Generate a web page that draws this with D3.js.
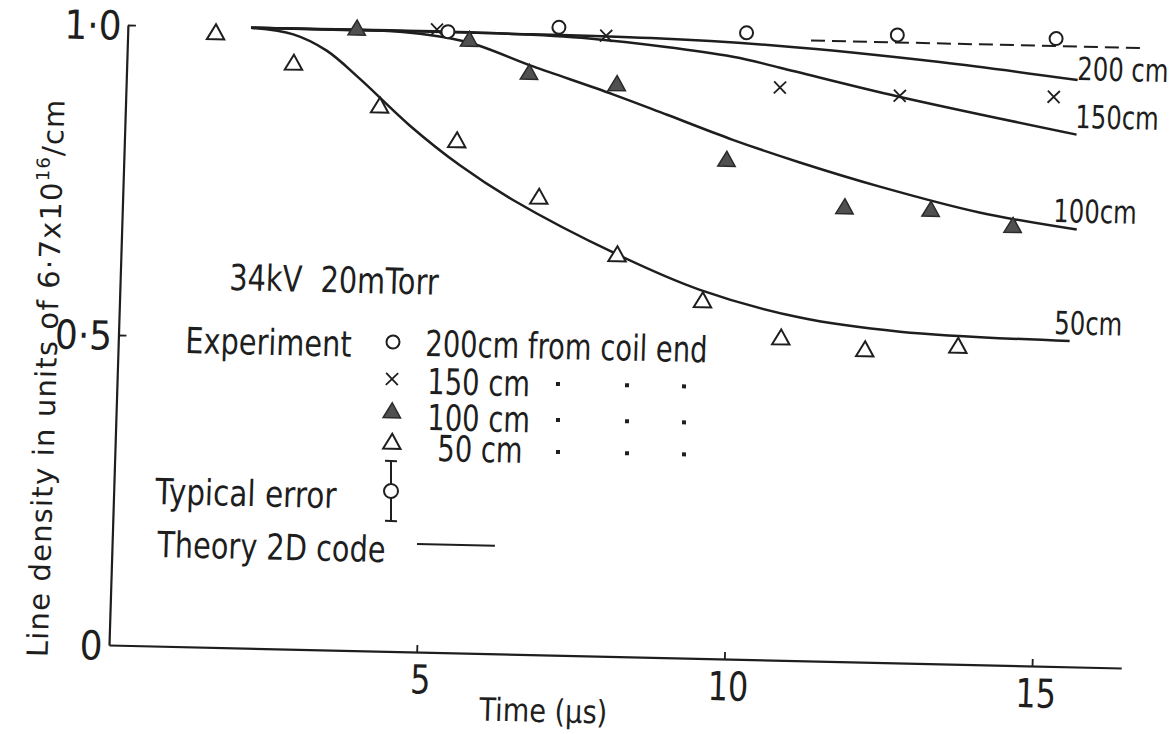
<!DOCTYPE html>
<html><head><meta charset="utf-8">
<script src="https://cdn.jsdelivr.net/npm/d3@7"></script>
<style>
body{margin:0;background:#fff;}
svg{display:block;background:#fff;}
text{font-family:"DejaVu Sans",sans-serif;fill:#1e1e1e;}
</style></head><body>
<svg id="c" width="1172" height="734"></svg>
<script>
// ---------- data ----------
const xTicks=[5,10,15];
const yTicks=[0,0.5,1];
const yTickLabels=["0","0\u00B75","1\u00B70"];

const exp200X=[5.2,7.0,10.05,12.5,15.08];
const exp200Y=[1.001,1.012,1.01,1.012,1.012];
const exp150X=[5.02,7.77,10.62,12.57,15.07];
const exp150Y=[1.004,1.0,0.923,0.914,0.918];
const exp100X=[3.72,5.55,6.54,7.97,9.79,11.73,13.13,14.47];
const exp100Y=[1.003,0.989,0.938,0.923,0.805,0.733,0.732,0.709];
const exp50X=[1.43,2.71,4.13,5.40,6.76,8.06,9.47,10.76,12.13,13.64];
const exp50Y=[0.991,0.945,0.879,0.826,0.738,0.648,0.577,0.520,0.504,0.513];

const th200X=[2,6,8.5,10.6,13.2,15.45];
const th200Y=[1,1,0.998,0.99,0.97,0.946];
const th150X=[2,6,7.5,9.84,10.61,12.54,15.46];
const th150Y=[1,1,0.995,0.971,0.955,0.913,0.858];
const th100X=[2,3.5,4.42,5.51,6.6,7.91,8.8,9.88,10.98,12.29,13.92,15.51];
const th100Y=[1,1,0.999,0.985,0.948,0.906,0.875,0.837,0.803,0.767,0.729,0.705];
const th50X=[2,2.69,3.24,3.79,4.63,5.46,6.34,8.06,9.42,11.06,12.69,15.45];
const th50Y=[1,0.991,0.966,0.922,0.848,0.786,0.732,0.648,0.594,0.553,0.534,0.525];
const dashX=[11.1,16.5];
const dashY=[1.0,1.0];

const curveLabels=["200 cm","150cm","100cm","50cm"];
const legendLabels=["200cm from coil end","150 cm","100 cm","50 cm"];
const conditionText="34kV  20mTorr";
const yTitle=["Line density in units of 6\u00B77x10","16","/cm"];
const xTitle="Time (\u00B5s)";

// ---------- layout ----------
const W=1172,H=734;
const ox=109, oy=645;             // page position of the origin
const alpha=1.3*Math.PI/180, beta=1.75*Math.PI/180; // scan tilt
const ma=Math.cos(alpha), mb=Math.sin(alpha), mc=-Math.sin(beta), md=Math.cos(beta);
const det=ma*md-mb*mc;
function loc(p){const dx=p[0]-ox, dy=p[1]-oy; return [(md*dx-mc*dy)/det, (-mb*dx+ma*dy)/det];}

const pxPerX=61.55, pxPerY=620.3, xMax=16.45;
const x=d3.scaleLinear().domain([0,xMax]).range([0,xMax*pxPerX]);
const y=d3.scaleLinear().domain([0,1]).range([0,-pxPerY]);

const svg=d3.select('#c');
svg.append('rect').attr('width',W).attr('height',H).attr('fill','#fff');
const g=svg.append('g').attr('transform',`matrix(${ma},${mb},${mc},${md},${ox},${oy})`);
const ink='#1e1e1e';

// axes
const gx=g.append('g').call(d3.axisBottom(x).tickValues(xTicks).tickFormat(d3.format('d'))
  .tickSizeInner(-7).tickSizeOuter(0).tickPadding(13));
const gy=g.append('g').call(d3.axisLeft(y).tickValues(yTicks).tickFormat((d,i)=>yTickLabels[i])
  .tickSizeInner(-8).tickSizeOuter(0).tickPadding(7));
[gx,gy].forEach(a=>{
  a.attr('font-family',null).attr('font-size',null);
  a.select('.domain').attr('stroke',ink).attr('stroke-width',2.2);
  a.selectAll('.tick line').attr('stroke',ink).attr('stroke-width',1.8);
  a.selectAll('.tick text').attr('font-size',40).attr('fill',ink);
});
gx.selectAll('.tick text').attr('transform','translate(4,0) scale(0.8,1)');
gy.selectAll('.tick text').attr('transform','scale(0.9,1)');
gy.selectAll('.tick').filter(d=>d===0).select('line').remove();
gy.selectAll('.tick text').attr('dy','0.36em');

// theory curves
const line=d3.line().x(d=>x(d[0])).y(d=>y(d[1])).curve(d3.curveCatmullRom.alpha(0.5));
[[th200X,th200Y],[th150X,th150Y],[th100X,th100Y],[th50X,th50Y]].forEach(([xs,ys])=>{
  g.append('path').datum(xs.map((v,i)=>[v,ys[i]])).attr('d',line)
   .attr('fill','none').attr('stroke',ink).attr('stroke-width',2.5);
});
g.append('path').datum(dashX.map((v,i)=>[v,dashY[i]])).attr('d',d3.line().x(d=>x(d[0])).y(d=>y(d[1])))
  .attr('fill','none').attr('stroke',ink).attr('stroke-width',2).attr('stroke-dasharray','14,7');

// markers
const tri=(s)=>`M0,${-s*0.55}L${s*0.58},${s*0.45}L${-s*0.58},${s*0.45}Z`;
function marker(sel,type){
  if(type==='circle') sel.append('circle').attr('r',6.5).attr('fill','#fff').attr('stroke',ink).attr('stroke-width',2);
  else if(type==='cross') sel.append('path').attr('d','M-6,-6L6,6M-6,6L6,-6').attr('stroke',ink).attr('stroke-width',1.8);
  else if(type==='ftri') sel.append('path').attr('d',tri(15)).attr('fill','#505050').attr('stroke','#2a2a2a').attr('stroke-width',1.5);
  else sel.append('path').attr('d',tri(15)).attr('fill','#fff').attr('stroke',ink).attr('stroke-width',2);
}
[[exp200X,exp200Y,'circle'],[exp150X,exp150Y,'cross'],[exp100X,exp100Y,'ftri'],[exp50X,exp50Y,'otri']].forEach(([xs,ys,t])=>{
  xs.forEach((v,i)=>{const m=g.append('g').attr('transform',`translate(${x(v)},${y(ys[i])})`); marker(m,t);});
});

// text helper (page position -> tilted frame, horizontally condensed lettering)
function txt(t,p,fs,sx,anchor){const q=loc(p);
  return g.append('text').attr('transform',`translate(${q[0]},${q[1]}) scale(${sx},1)`)
    .attr('font-size',fs).attr('text-anchor',anchor||'start').text(t);}

// curve labels
const labPos=[[1077,80],[1075,128],[1053,222],[1054,334]];
curveLabels.forEach((t,i)=>txt(t,labPos[i],32,0.76));

// legend / annotation
txt(conditionText,[229,290],36,0.8).style('white-space','pre');
txt('Experiment',[185,353],36,0.8);
const symPos=[[393,342],[392,379],[392,411],[392,442]];
const symType=['circle','cross','ftri','otri'];
const labX=[425,427,427,437];
const labY=[356,394,430,461];
symType.forEach((t,i)=>{const q=loc(symPos[i]);
  const m=g.append('g').attr('transform',`translate(${q[0]},${q[1]})`); marker(m,t);
  txt(legendLabels[i],[labX[i],labY[i]],36,0.76);
});
const dotCols=[558,627,684];
[384,420,452].forEach((yy,r)=>dotCols.forEach((xx,c)=>{const q=loc([xx,yy+c*1.2]);
  g.append('rect').attr('x',q[0]-2).attr('y',q[1]-2).attr('width',4).attr('height',4).attr('fill',ink);}));
// typical error
txt('Typical error',[155,504],36,0.82);
{const a=loc([391,461]), b=loc([391,521]), c=loc([391,491]);
 g.append('line').attr('x1',a[0]).attr('y1',a[1]).attr('x2',b[0]).attr('y2',b[1]).attr('stroke',ink).attr('stroke-width',2);
 [a,b].forEach(p=>g.append('line').attr('x1',p[0]-6).attr('x2',p[0]+6).attr('y1',p[1]).attr('y2',p[1]).attr('stroke',ink).attr('stroke-width',2));
 g.append('circle').attr('cx',c[0]).attr('cy',c[1]).attr('r',7).attr('fill','#fff').attr('stroke',ink).attr('stroke-width',2);}
txt('Theory 2D code',[157,557],36,0.8);
{const a=loc([417,544]), b=loc([495,544]);
 g.append('line').attr('x1',a[0]).attr('y1',a[1]).attr('x2',b[0]).attr('y2',a[1]).attr('stroke',ink).attr('stroke-width',2.2);}

// axis titles
txt(xTitle,[543,722],32,0.85,'middle');
{const q=loc([56,378]);
 const t=g.append('text').attr('transform',`translate(${q[0]},${q[1]}) rotate(-90)`).attr('font-size',29)
   .attr('letter-spacing',1.2).attr('text-anchor','middle');
 t.append('tspan').text(yTitle[0]);
 t.append('tspan').attr('dy',-13).attr('font-size',18).text(yTitle[1]);
 t.append('tspan').attr('dy',13).text(yTitle[2]);}
</script></body></html>
